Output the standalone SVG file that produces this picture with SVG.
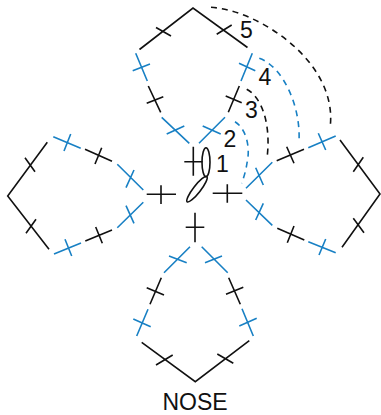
<svg xmlns="http://www.w3.org/2000/svg" width="381" height="415" viewBox="0 0 381 415">
<style>
path{fill:none;stroke-width:1.6}
.k{stroke:#111}
.b{stroke:#1880c4}
.d{stroke-dasharray:6 5}
ellipse{fill:none;stroke:#111;stroke-width:1.6}
text{font-family:"Liberation Sans",Arial,sans-serif;font-size:23px;fill:#111}
</style>
<rect width="381" height="415" fill="#fff"/>
<g id="connectors">
<path class="b d" d="M235 121.7C245 128 251 145 247 163C246 170 244 177 241.7 183.3"/>
<path class="k d" d="M246.7 89.3C260 96 271 120 267.3 155.7"/>
<path class="b d" d="M259.3 58.3C282 66 301 105 299 141.7"/>
<path class="k d" d="M211 7.3C258 10 339 62 330 128.3"/>
</g>
<g id="petal-top">
<path class="k" d="M139.5 49.5L193 8L247.5 47.5M156 27.5L171 36M216.7 34.3L231.7 25M148.3 86L160.7 112.3M146.7 103.3L163.3 96.7M239.3 86L228.3 112.3M225.7 96L241.7 102.7"/>
<path class="b" d="M135.7 53.3L147.3 81M132.7 70.7L150 64M161.7 117.3L189.3 143.3M166.7 134L184.3 126M225 117.3L199 143.3M202.7 126L220.7 134M252.3 53.3L241 81M239 63.3L255.3 70.7"/>
</g>
<g id="petal-left">
<path class="k" d="M47.3 142.3L7.7 196L49 249.3M25 157.7L35 171.7M26 233.3L36 219.3M85 149.3L112 161.3M101.7 147.7L95 164M112 230L85.3 241M95.7 227L102.3 243.3"/>
<path class="b" d="M53.3 136.7L80.7 148.3M70.7 134L64 151M117.3 164.3L143.3 190M134 170L126 187.7M143.3 202.3L117.3 227.7M126 205.7L134 223.3M81 243L54 254M65 239.3L71.7 256"/>
</g>
<g id="petal-bottom">
<path class="k" d="M141.7 342.3L195.3 381.7L249.3 340.7M156 365L172.7 355M217.3 354L233.3 363.3M161.3 277.7L150 304.3M146.7 287.7L164 295M228.7 277.7L240.3 304.3M226 294.3L243.3 287.3"/>
<path class="b" d="M190 246.7L164 272.7M169 256L186.7 262.7M148 309.3L136.7 336M133.3 319L150.7 326.7M201.7 246.7L227.7 272.7M205 262.7L222 256M242 308.7L253.3 336M239.3 326L256.7 318.3"/>
</g>
<g id="petal-right">
<path class="k" d="M340 140L380 194L342 247.3M353.3 171.7L363.3 157.3M353.3 218.3L364 232.7M276.7 160.7L304 149.3M286.7 146.7L294 163.3M277.3 228.3L304.3 240M294 226L287.3 242.7"/>
<path class="b" d="M246 188.3L272.3 162.3M255.7 167.7L263.3 185M308.3 147.7L335.7 136M318.3 133.3L325.7 150M246 200L272.3 225.3M263.3 203.3L255.7 220M308.3 241.7L335.7 252.7M325.7 239L319 255"/>
</g>
<g id="center">
<path class="k" d="M193.3 146.7V175.7M184.3 161.7H202.7M146.7 194.3H176M161 185.3V204M212.7 193.3H242.3M227.3 184.3V202.7M195 212.7V242.3M185.7 227.3H204.3"/>
<ellipse cx="206" cy="162.3" rx="4" ry="14.5"/>
<ellipse cx="197" cy="189.2" rx="16" ry="3.6" transform="rotate(-52 197 189.2)"/>
</g>
<g id="labels">
<text x="216" y="172">1</text>
<text x="223.5" y="146.7">2</text>
<text x="245" y="117.7">3</text>
<text x="258.5" y="84.7">4</text>
<text x="240" y="37.7">5</text>
<text x="195" y="410" text-anchor="middle">NOSE</text>
</g>
</svg>
